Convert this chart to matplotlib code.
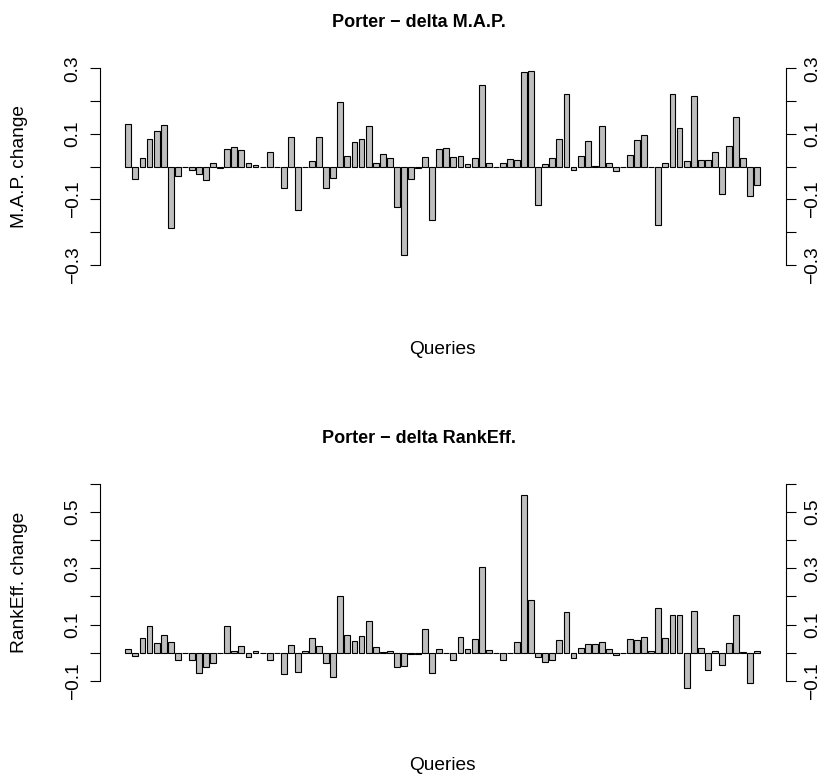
import matplotlib
matplotlib.use('Agg')
import matplotlib.pyplot as plt
import numpy as np

# delta M.A.P. per query (Porter vs baseline)
map_delta = [0.129, -0.038, 0.027, 0.085, 0.109, 0.126, -0.186, -0.028, 0.0, -0.010,
             -0.022, -0.040, 0.010, -0.005, 0.055, 0.061, 0.050, 0.010, 0.004, -0.002,
             0.044, 0.0, -0.066, 0.091, -0.132, 0.0, 0.017, 0.091, -0.066, -0.035,
             0.198, 0.033, 0.076, 0.083, 0.124, 0.011, 0.040, 0.025, -0.122, -0.269,
             -0.038, -0.004, 0.030, -0.163, 0.055, 0.056, 0.030, 0.034, 0.007, 0.026,
             0.249, 0.012, 0.0, 0.012, 0.023, 0.019, 0.289, 0.293, -0.116, 0.008,
             0.026, 0.085, 0.222, -0.010, 0.032, 0.077, 0.001, 0.123, 0.011, -0.014,
             0.0, 0.036, 0.080, 0.096, -0.002, -0.178, 0.012, 0.222, 0.119, 0.018,
             0.216, 0.020, 0.020, 0.046, -0.084, 0.063, 0.151, 0.027, -0.088, -0.056]

# delta RankEff. per query
rankeff_delta = [0.014, -0.012, 0.053, 0.093, 0.036, 0.064, 0.039, -0.028, 0.0, -0.026,
                 -0.072, -0.050, -0.038, 0.0, 0.093, 0.007, 0.025, -0.014, 0.004, 0.0,
                 -0.028, 0.0, -0.076, 0.026, -0.069, 0.007, 0.051, 0.025, -0.038, -0.088,
                 0.203, 0.063, 0.043, 0.058, 0.113, 0.021, 0.002, 0.007, -0.050, -0.048,
                 -0.006, -0.004, 0.085, -0.072, 0.012, 0.0, -0.026, 0.056, 0.013, 0.049,
                 0.305, 0.010, 0.0, -0.025, 0.0, 0.039, 0.559, 0.187, -0.014, -0.034,
                 -0.026, 0.045, 0.145, -0.020, 0.018, 0.032, 0.032, 0.039, 0.014, -0.009,
                 0.0, 0.050, 0.044, 0.057, 0.006, 0.157, 0.053, 0.133, 0.135, -0.126,
                 0.149, 0.018, -0.063, 0.007, -0.045, 0.035, 0.135, 0.001, -0.109, 0.004]

map_ticks = [-0.3, -0.2, -0.1, 0.0, 0.1, 0.2, 0.3]
map_labels = ['\u22120.3', '', '\u22120.1', '', '0.1', '', '0.3']
re_ticks = [-0.1, 0.0, 0.1, 0.2, 0.3, 0.4, 0.5, 0.6]
re_labels = ['\u22120.1', '', '0.1', '', '0.3', '', '0.5', '']

plt.rcParams['font.family'] = ['Liberation Sans', 'DejaVu Sans']

W, H = 830, 776
fig = plt.figure(figsize=(W / 100, H / 100), dpi=100)

FS = 13.8
# plot region edges in pixels
L, R = 100, 785.6


def panel(top, bottom, values, ticks, labels, ylim, title, ylab):
    ax = fig.add_axes([L / W, 1 - bottom / H, (R - L) / W, (bottom - top) / H])
    n = len(values)
    x = 0.7 + 1.2 * np.arange(n)
    ax.bar(x, values, width=1.0, color='#bebebe', edgecolor='black',
           linewidth=0.8, clip_on=False)
    span = 1.2 * n - 0.2
    ax.set_xlim(0.2 - 0.04 * span, 1.2 * n + 0.04 * span)
    ax.set_ylim(*ylim)
    for s in ['top', 'bottom']:
        ax.spines[s].set_visible(False)
    for s in ['left', 'right']:
        ax.spines[s].set_bounds(ticks[0], ticks[-1])
        ax.spines[s].set_linewidth(0.8)
    ax.set_xticks([])
    ax.set_yticks(ticks)
    ax.set_yticklabels(labels)
    ax.tick_params(axis='y', which='both', left=True, right=True,
                   labelleft=True, labelright=True, direction='out',
                   length=7.2, width=0.8, pad=6, labelsize=FS)
    for lab in ax.get_yticklabels():
        lab.set_rotation(90)
        lab.set_va('center')
    cx = (L + R) / 2
    fig.text(419 / W, 1 - (top - 38) / H, title, ha='center', va='center',
             fontsize=13, fontweight='bold')
    fig.text(cx / W, 1 - (bottom + 77) / H, 'Queries', ha='center',
             va='center', fontsize=FS)
    fig.text(20 / W, 1 - ((top + bottom) / 2) / H, ylab, ha='center',
             va='center', rotation=90, fontsize=FS)
    return ax


panel(60.4, 272.9, map_delta, map_ticks, map_labels, (-0.324, 0.324),
      'Porter \u2212 delta M.A.P.', 'M.A.P. change')
panel(476.1, 688.6, rankeff_delta, re_ticks, re_labels, (-0.128, 0.628),
      'Porter \u2212 delta RankEff.', 'RankEff. change')

fig.savefig('out.png', dpi=100)
